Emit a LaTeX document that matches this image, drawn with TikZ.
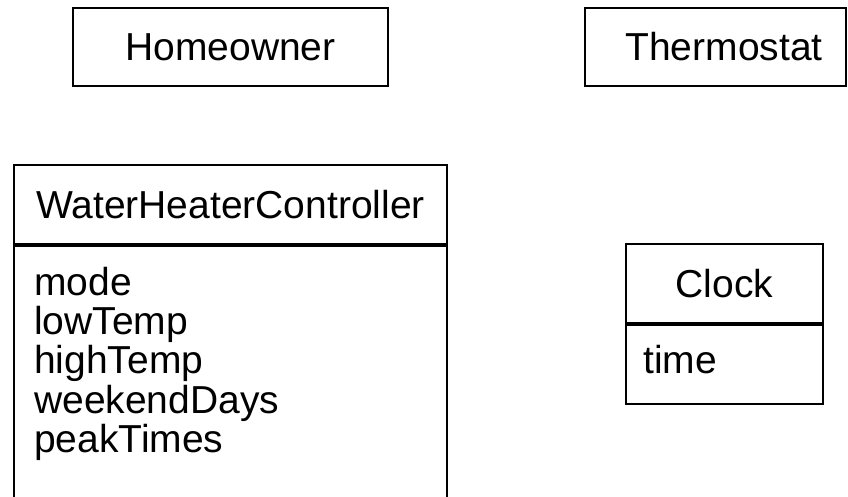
\documentclass[tikz,border=0pt]{standalone}
\usepackage{fontspec}
\setmainfont{Liberation Sans}
\newcommand{\umlfont}{\fontsize{39}{39.2}\selectfont}
\begin{document}
\begin{tikzpicture}[x=1pt,y=-1pt,
  umlbox/.style={draw, line width=2.2pt, inner sep=0pt, font=\umlfont,
    text height=28pt, text depth=0pt},
  attrbox/.style={draw, line width=2.2pt, inner sep=0pt, anchor=north},
  attrtext/.style={inner sep=0pt, font=\umlfont, align=left}
]
\useasboundingbox (0,0) rectangle (848,497);
\clip (0,0) rectangle (848,497);

% actors / plain classes
\node[umlbox, minimum width=315pt, minimum height=78pt] (home) at (230.5,47) {Homeowner};
\node[umlbox, minimum width=261pt, minimum height=78pt] (thermo) at (715.5,47) {};
\node[inner sep=0pt, font=\umlfont, text height=28pt, text depth=0pt] (thermotext) at (724,47) {Thermostat};

% WaterHeaterController: name compartment and attribute compartment
\node[umlbox, minimum width=433pt, minimum height=79pt] (whc) at (230.5,204.5) {WaterHeaterController};
\node[attrbox, minimum width=433pt, minimum height=300pt] (whcattr) at (whc.south) {};
\node[attrtext, anchor=north west] (whclist) at (34,267)
  {mode\\lowTemp\\highTemp\\weekendDays\\peakTimes};

% Clock: name compartment and attribute compartment
\node[umlbox, minimum width=197pt, minimum height=79pt] (clock) at (724.5,283.5) {Clock};
\node[attrbox, minimum width=197pt, minimum height=79pt] (clockattr) at (clock.south) {};
\node[attrtext, anchor=base west] (clocklist) at (643,373) {time};
\end{tikzpicture}
\end{document}
